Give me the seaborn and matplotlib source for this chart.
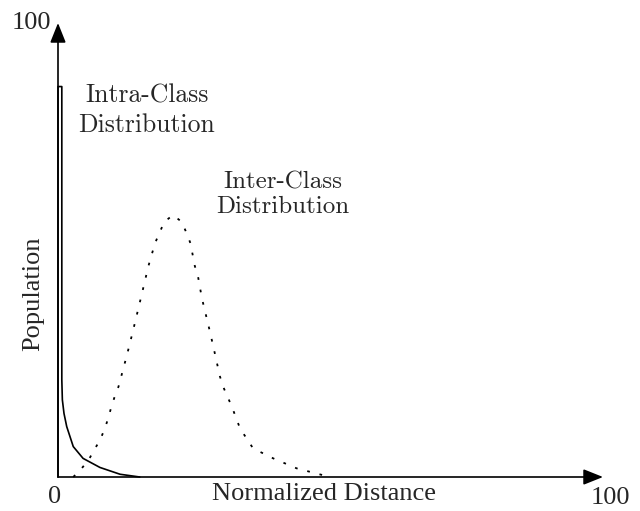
import numpy as np
import pandas as pd
import matplotlib
matplotlib.use("Agg")
import matplotlib.pyplot as plt
import seaborn as sns

# Intra-class distribution (solid)
intra_x = [0, 0, 0.7, 0.7, 0.8, 1.1, 1.6, 2.8, 4.6, 7.7, 11.4, 15.0]
intra_y = [0, 86, 86, 21.4, 17, 14, 11.1, 6.7, 4.1, 2.1, 0.6, 0.0]

# Inter-class distribution (dotted)
inter_x = [2.8, 4.2, 5.6, 6.6, 7.7, 8.6, 9.2, 9.8, 10.4, 11.1, 12.7, 13.7, 15.2,
           16.6, 17.8, 19.5, 21.1, 22.7, 23.6, 24.3, 25.1, 25.7, 26.4, 27.4, 27.9,
           28.8, 29.7, 30.3, 31.9, 33.4, 35.8, 39.5, 43.8, 49.9]
inter_y = [0.0, 1.7, 3.7, 5.9, 8.1, 10.7, 12.9, 15.5, 17.7, 19.9, 27.1, 31.9, 39.4,
           46.5, 51.5, 56.2, 57.7, 56.2, 53.7, 51.5, 46.5, 44.1, 39.4, 34.4, 31.9,
           27.1, 22.2, 19.9, 15.5, 10.7, 6.3, 4.1, 1.9, 0.0]

x_ticks = ["0", "100"]
y_ticks = ["100"]
x_label = "Normalized Distance"
y_label = "Population"
intra_label = "Intra-Class\nDistribution"
inter_label = "Inter-Class\nDistribution"

sns.set_theme(style="white")
plt.rcParams["font.family"] = ["Liberation Serif", "DejaVu Serif"]

fig = plt.figure(figsize=(6.4, 5.11), dpi=100)
W, H = 640, 511
ax = fig.add_axes([58 / W, (H - 477) / H, 545 / W, 454 / H])

df_intra = pd.DataFrame({"x": intra_x, "y": intra_y})
df_inter = pd.DataFrame({"x": inter_x, "y": inter_y})

sns.lineplot(data=df_intra, x="x", y="y", sort=False, estimator=None,
             color="black", lw=1.2, ax=ax, clip_on=False)
sns.lineplot(data=df_inter, x="x", y="y", sort=False, estimator=None,
             color="black", lw=1.3, ax=ax, clip_on=False,
             linestyle=(0, (1.5, 5.5)))

ax.set_xlim(0, 100)
ax.set_ylim(0, 100)
for s in ax.spines.values():
    s.set_visible(False)
ax.set_xticks([])
ax.set_yticks([])
ax.set_xlabel("")
ax.set_ylabel("")

arrow = dict(arrowstyle="-|>,head_length=1.0,head_width=0.4", lw=1.2,
             color="black", shrinkA=0, shrinkB=0)
ax.annotate("", xy=(0, 100), xytext=(0, 0), arrowprops=arrow,
            annotation_clip=False)
ax.annotate("", xy=(100, 0), xytext=(0, 0), arrowprops=arrow,
            annotation_clip=False)

serif = ["Liberation Serif", "DejaVu Serif"]
ax.text(-0.6, -4.5, x_ticks[0], ha="center", va="center", fontsize=19,
        family=serif, clip_on=False)
ax.text(101.3, -4.6, x_ticks[1], ha="center", va="center", fontsize=19,
        family=serif, clip_on=False)
ax.text(-4.8, 100, y_ticks[0], ha="center", va="center", fontsize=19,
        family=serif, clip_on=False)
ax.text(48.8, -3.8, x_label, ha="center", va="center", fontsize=19,
        family=serif, clip_on=False)
ax.text(-4.6, 40.4, y_label, ha="center", va="center", fontsize=19,
        rotation=90, family=serif, clip_on=False)

cm = ["cmr10", "DejaVu Serif"]
ax.text(16.3, 80.7, intra_label, ha="center", va="center", fontsize=18.5,
        family=cm, linespacing=1.3, multialignment="center")
ax.text(41.3, 62.2, inter_label, ha="center", va="center", fontsize=18,
        family=cm, linespacing=1.12, multialignment="center")

fig.savefig("out.png", dpi=100)
